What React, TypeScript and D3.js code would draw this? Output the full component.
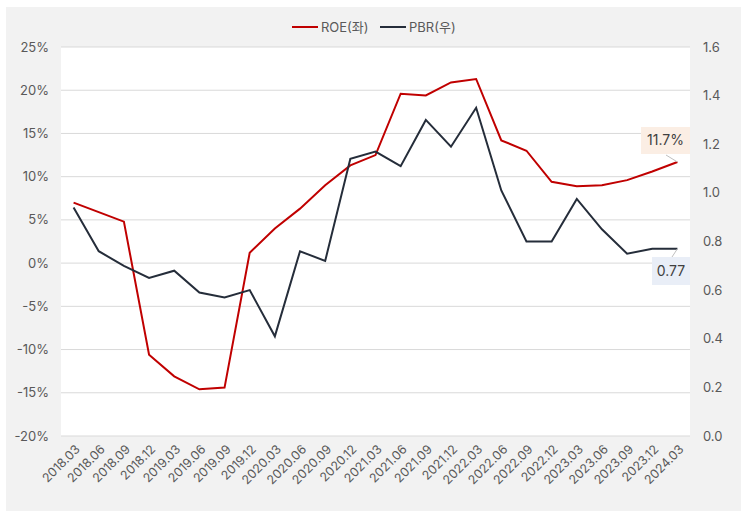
import React from "react";
import * as d3 from "d3";

const categories = ["2018.03","2018.06","2018.09","2018.12","2019.03","2019.06","2019.09","2019.12","2020.03","2020.06","2020.09","2020.12","2021.03","2021.06","2021.09","2021.12","2022.03","2022.06","2022.09","2022.12","2023.03","2023.06","2023.09","2023.12","2024.03"];
const roe = [7.0,5.9,4.8,-10.6,-13.1,-14.6,-14.4,1.2,4.0,6.3,9.0,11.3,12.5,19.6,19.4,20.9,21.3,14.2,13.0,9.4,8.9,9.0,9.6,10.6,11.7];
const pbr = [0.94,0.76,0.70,0.65,0.68,0.59,0.57,0.60,0.41,0.76,0.72,1.14,1.17,1.11,1.30,1.19,1.35,1.01,0.80,0.80,0.975,0.85,0.75,0.77,0.77];
const leftTicks = [25,20,15,10,5,0,-5,-10,-15,-20];
const rightTicks = [1.6,1.4,1.2,1.0,0.8,0.6,0.4,0.2,0.0];

const W = 741, H = 511;
const L = 61, R = 690, T = 47, B = 436;
const FONT = "Inter, 'Noto Sans CJK KR', sans-serif";

export default function App() {
  const x = d3.scalePoint<string>().domain(categories).range([L, R]).padding(0.5);
  const yL = d3.scaleLinear().domain([-20, 25]).range([B, T]);
  const yR = d3.scaleLinear().domain([0, 1.6]).range([B, T]);
  const lineRoe = d3.line<number>().x((_, i) => x(categories[i])!).y(d => yL(d));
  const linePbr = d3.line<number>().x((_, i) => x(categories[i])!).y(d => yR(d));
  const last = categories.length - 1;
  const lx = x(categories[last])!;
  const roeY = yL(roe[last]);
  const pbrY = yR(pbr[last]);
  return (
    <svg width={W} height={H} style={{ position: "absolute", left: 0, top: 0 }} fontFamily={FONT}>
      <rect x={0} y={0} width={W} height={H} fill="#ffffff" />
      <rect x={6} y={7} width={W - 6} height={H - 7} fill="#f2f2f2" />
      <rect x={L} y={T} width={R - L} height={B - T} fill="#ffffff" />
      {leftTicks.map(t => (
        <g key={t}>
          <line x1={L} x2={R} y1={yL(t)} y2={yL(t)} stroke="#d9d9d9" strokeWidth={1} />
          <text x={49} y={yL(t)} dy="0.35em" textAnchor="end" fontSize={13} fill="#595959">{t}%</text>
        </g>
      ))}
      {rightTicks.map(t => (
        <text key={t} x={703} y={yR(t)} dy="0.35em" textAnchor="start" fontSize={13} fill="#595959">{t.toFixed(1)}</text>
      ))}
      {categories.map(c => (
        <text key={c} transform={`translate(${x(c)! + 4},${447}) rotate(-45)`} textAnchor="end" dy="0.35em" fontSize={12.5} fill="#595959">{c}</text>
      ))}
      <path d={lineRoe(roe)!} fill="none" stroke="#c00000" strokeWidth={2} />
      <path d={linePbr(pbr)!} fill="none" stroke="#252d3a" strokeWidth={2} />
      <line x1={666} y1={155} x2={lx} y2={roeY} stroke="#bfbfbf" strokeWidth={1} />
      <rect x={641} y={127} width={49} height={27} fill="#fbeee4" />
      <text x={665.5} y={140.5} dy="0.35em" textAnchor="middle" fontSize={14} fill="#404040">{roe[last].toFixed(1)}%</text>
      <line x1={672} y1={257} x2={lx} y2={pbrY} stroke="#bfbfbf" strokeWidth={1} />
      <rect x={652} y={257} width={38} height={28} fill="#e9eef7" />
      <text x={671} y={271} dy="0.35em" textAnchor="middle" fontSize={14} fill="#404040">{pbr[last].toFixed(2)}</text>
      <line x1={292} x2={318} y1={27} y2={27} stroke="#c00000" strokeWidth={2} />
      <text x={321} y={27} dy="0.35em" fontSize={13} fill="#595959">ROE(좌)</text>
      <line x1={380} x2={406} y1={27} y2={27} stroke="#252d3a" strokeWidth={2} />
      <text x={409} y={27} dy="0.35em" fontSize={13} fill="#595959">PBR(우)</text>
    </svg>
  );
}
